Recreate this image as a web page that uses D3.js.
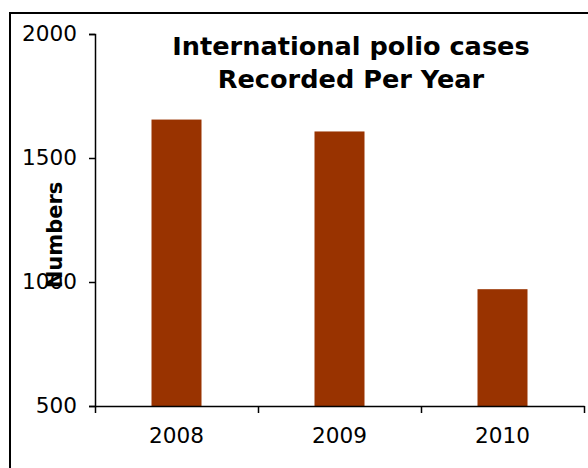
<!DOCTYPE html>
<html>
<head>
<meta charset="utf-8">
<script src="https://cdn.jsdelivr.net/npm/d3@7"></script>
<style>
  html, body { margin: 0; padding: 0; background: #fff; }
  svg { display: block; font-family: "DejaVu Sans", Verdana, sans-serif; }
</style>
</head>
<body>
<svg id="chart" width="588" height="468"></svg>
<script>
// Data
const years = ['2008', '2009', '2010'];
const cases = [1655, 1607, 971];
const yTicks = [500, 1000, 1500, 2000];
const titleLines = ['International polio cases', 'Recorded Per Year'];
const yLabel = 'Numbers';

const svg = d3.select('#chart');

// Plot area
const plotLeft = 95, plotRight = 584, plotTop = 34, plotBottom = 406;
const barWidth = 50;

// Outer frame (cut off at right and bottom)
svg.append('rect')
    .attr('x', 10).attr('y', 13)
    .attr('width', 600).attr('height', 500)
    .attr('fill', 'none')
    .attr('stroke', '#000')
    .attr('stroke-width', 2);

// Scales
const x = d3.scaleBand().domain(years).range([plotLeft, plotRight]).padding(0);
const y = d3.scaleLinear().domain([500, 2000]).range([plotBottom, plotTop]);

// Bars
svg.append('g')
    .selectAll('rect')
    .data(years.map((yr, i) => ({ year: yr, value: cases[i] })))
    .join('rect')
    .attr('x', d => x(d.year) + x.bandwidth() / 2 - barWidth / 2)
    .attr('width', barWidth)
    .attr('y', d => y(d.value))
    .attr('height', d => y(500) - y(d.value))
    .attr('fill', '#993300');

// Y axis
const yAxis = svg.append('g')
    .attr('transform', `translate(${plotLeft},0)`)
    .call(d3.axisLeft(y).tickValues(yTicks).tickSize(6).tickPadding(12).tickFormat(d3.format('d')));
yAxis.selectAll('text').attr('font-size', 21.6).attr('font-family', '"DejaVu Sans", sans-serif').attr('fill', '#000');
yAxis.selectAll('line, path').attr('stroke', '#000').attr('stroke-width', 1.5);

// X axis boundary ticks
const xb = d3.scaleLinear().domain([0, years.length]).range([plotLeft, plotRight]);
const xAxis = svg.append('g')
    .attr('transform', `translate(0,${plotBottom})`)
    .call(d3.axisBottom(xb).tickValues(d3.range(years.length + 1)).tickSize(7).tickSizeOuter(0).tickFormat(''));
xAxis.selectAll('line, path').attr('stroke', '#000').attr('stroke-width', 1.5);

// X labels
const xLab = svg.append('g')
    .attr('transform', `translate(0,${plotBottom})`)
    .call(d3.axisBottom(x).tickSize(0).tickPadding(22));
xLab.select('.domain').remove();
xLab.selectAll('text').attr('font-size', 21.6).attr('font-family', '"DejaVu Sans", sans-serif').attr('fill', '#000');

// Title
svg.append('text')
    .attr('text-anchor', 'middle')
    .attr('font-weight', 'bold')
    .attr('font-size', 25.6)
    .selectAll('tspan')
    .data(titleLines)
    .join('tspan')
    .attr('x', 351)
    .attr('y', (d, i) => 55 + i * 33)
    .text(d => d);

// Y label
svg.append('text')
    .attr('transform', 'translate(62,235) rotate(-90)')
    .attr('text-anchor', 'middle')
    .attr('font-weight', 'bold')
    .attr('font-size', 21)
    .text(yLabel);
</script>
</body>
</html>
